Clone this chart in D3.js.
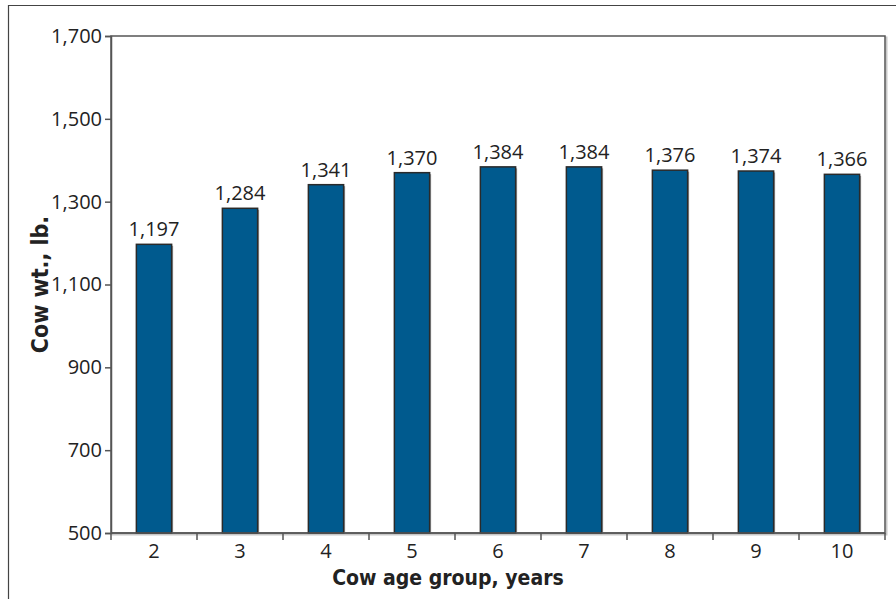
<!DOCTYPE html>
<html>
<head>
<meta charset="utf-8">
<script src="https://cdn.jsdelivr.net/npm/d3@7/dist/d3.min.js"></script>
<style>
  html, body { margin: 0; padding: 0; background: #fff; }
  svg { display: block; }
</style>
</head>
<body>
<svg id="chart" width="896" height="599"></svg>
<script>
// Cow weight by age group
const ageGroups = ["2", "3", "4", "5", "6", "7", "8", "9", "10"];
const cowWeights = [1197, 1284, 1341, 1370, 1384, 1384, 1376, 1374, 1366];
const yTicks = [500, 700, 900, 1100, 1300, 1500, 1700];
const xTitle = "Cow age group, years";
const yTitle = "Cow wt., lb.";

const W = 896, H = 599;
const plot = { left: 111, top: 36, right: 885, bottom: 533 };
const font = "'Open Sans', 'DejaVu Sans', sans-serif";
const titleFont = "'DejaVu Sans Condensed', 'DejaVu Sans', sans-serif";
const labelSize = 20;

const svg = d3.select("#chart");

// outer frame (top and left edges)
svg.append("path")
  .attr("d", `M8.5,${H} V5.5 H${W}`)
  .attr("fill", "none")
  .attr("stroke", "#444")
  .attr("stroke-width", 1.2);

const x = d3.scaleBand()
  .domain(ageGroups)
  .range([plot.left, plot.right])
  .paddingInner(0.59)
  .paddingOuter(0.295);

const y = d3.scaleLinear()
  .domain([500, 1700])
  .range([plot.bottom, plot.top]);

// soft shadow behind the plot box
svg.append("rect")
  .attr("x", plot.left + 1.5).attr("y", plot.top + 1.5)
  .attr("width", plot.right - plot.left).attr("height", plot.bottom - plot.top)
  .attr("fill", "none").attr("stroke", "#c8c8c8").attr("stroke-width", 2);

// plot box
svg.append("rect")
  .attr("x", plot.left).attr("y", plot.top)
  .attr("width", plot.right - plot.left).attr("height", plot.bottom - plot.top)
  .attr("fill", "#fff").attr("stroke", "#555").attr("stroke-width", 1.5);

// bars
const bars = svg.append("g");
bars.selectAll("rect.shadow")
  .data(cowWeights)
  .join("rect")
  .attr("class", "shadow")
  .attr("x", (d, i) => x(ageGroups[i]) + 1.5)
  .attr("y", d => y(d) + 1.5)
  .attr("width", x.bandwidth())
  .attr("height", d => y(500) - y(d) - 1.5)
  .attr("fill", "#9a9a9a");
bars.selectAll("rect.bar")
  .data(cowWeights)
  .join("rect")
  .attr("class", "bar")
  .attr("x", (d, i) => x(ageGroups[i]))
  .attr("y", d => y(d))
  .attr("width", x.bandwidth())
  .attr("height", d => y(500) - y(d))
  .attr("fill", "#005a8e")
  .attr("stroke", "#2a2a2a")
  .attr("stroke-width", 1.5);

// value labels
svg.append("g").selectAll("text")
  .data(cowWeights)
  .join("text")
  .attr("x", (d, i) => x(ageGroups[i]) + x.bandwidth() / 2)
  .attr("y", d => y(d) - 8)
  .attr("text-anchor", "middle")
  .attr("font-family", font)
  .attr("font-size", labelSize)
  .attr("fill", "#222")
  .text(d => d3.format(",")(d));

// y axis
const yAxis = svg.append("g")
  .attr("transform", `translate(${plot.left},0)`)
  .call(d3.axisLeft(y).tickValues(yTicks).tickFormat(d3.format(",")).tickSize(6).tickPadding(3));
yAxis.select(".domain").attr("stroke", "#555").attr("stroke-width", 1.5);
yAxis.selectAll(".tick line").attr("stroke", "#555").attr("stroke-width", 1.5);
yAxis.selectAll(".tick text")
  .attr("font-family", font).attr("font-size", labelSize).attr("fill", "#222");

// x axis: ticks sit between categories
const xAxisG = svg.append("g")
  .attr("transform", `translate(0,${plot.bottom})`);
xAxisG.append("line")
  .attr("x1", plot.left).attr("x2", plot.right)
  .attr("stroke", "#555").attr("stroke-width", 1.5);
const step = x.step();
const boundaries = d3.range(ageGroups.length + 1).map(i => plot.left + i * step);
xAxisG.selectAll("line.tick")
  .data(boundaries)
  .join("line")
  .attr("class", "tick")
  .attr("x1", d => d).attr("x2", d => d)
  .attr("y1", 0).attr("y2", 7)
  .attr("stroke", "#555").attr("stroke-width", 1.5);
xAxisG.selectAll("text")
  .data(ageGroups)
  .join("text")
  .attr("x", d => x(d) + x.bandwidth() / 2)
  .attr("y", 25)
  .attr("text-anchor", "middle")
  .attr("font-family", font)
  .attr("font-size", labelSize)
  .attr("fill", "#222")
  .text(d => d);

// axis titles
svg.append("text")
  .attr("x", W / 2).attr("y", 585)
  .attr("text-anchor", "middle")
  .attr("font-family", titleFont)
  .attr("font-weight", "bold")
  .attr("font-size", 21)
  .attr("fill", "#222")
  .text(xTitle);

svg.append("text")
  .attr("transform", `translate(48,${(plot.top + plot.bottom) / 2}) rotate(-90)`)
  .attr("text-anchor", "middle")
  .attr("font-family", titleFont)
  .attr("font-weight", "bold")
  .attr("font-size", 23)
  .attr("fill", "#222")
  .text(yTitle);
</script>
</body>
</html>
